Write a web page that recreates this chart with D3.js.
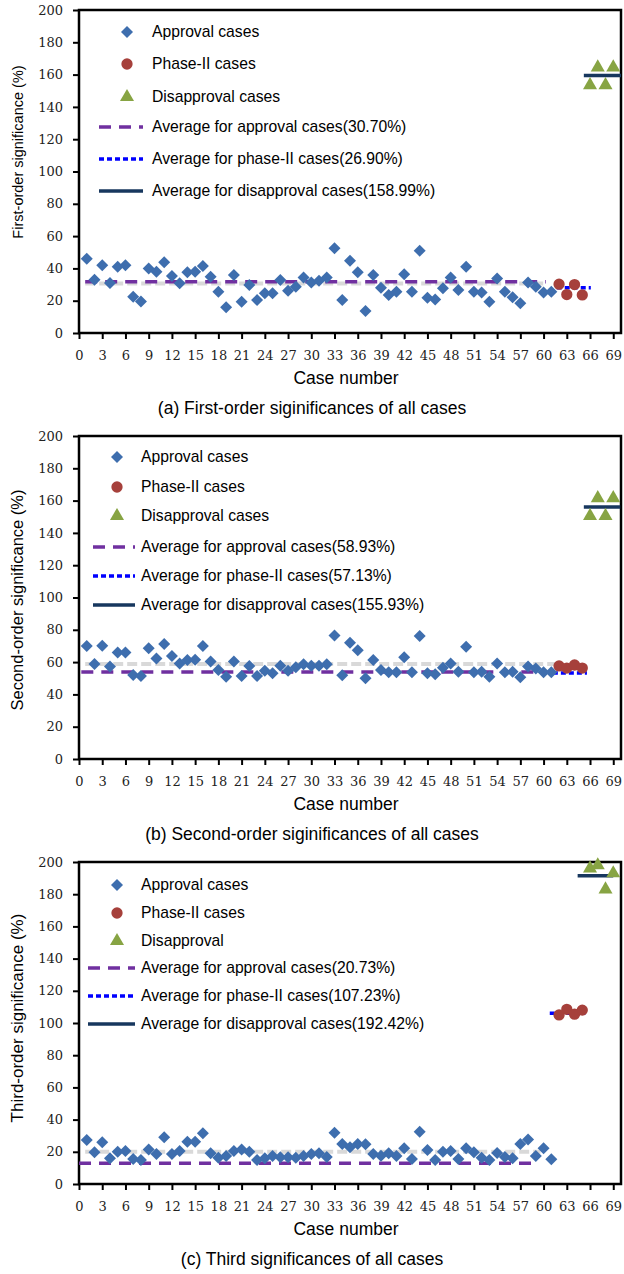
<!DOCTYPE html>
<html>
<head>
<meta charset="utf-8">
<script src="https://cdn.jsdelivr.net/npm/d3@7"></script>
<style>
  body { margin: 0; background: #fff; }
  svg { display: block; }
</style>
</head>
<body>
<div id="chart"></div>
<script>
/*
 * data
 */
const caseTicks = d3.range(0, 70, 3)
const sigTicks = d3.range(0, 201, 20)

const approvalCases = d3.range(1, 62)
const phaseCases = [62, 63, 64, 65]
const disapprovalCases = [66, 67, 68, 69]

const firstApproval = [46, 33, 42, 31, 41, 42, 22.5, 19.5, 40, 38, 43.8, 35.3, 30.8, 37.6, 38,
  41.5, 34.9, 25.6, 16, 35.9, 19.4, 29.7, 20.4, 24.6, 24.6, 32.8, 26.2, 28.7, 34.3, 31.2,
  32.4, 34.3, 52.4, 20.4, 44.8, 37.6, 13.6, 35.9, 28, 23.5, 25.6, 36.3, 25.6, 51, 21.9,
  20.8, 27.7, 34.3, 26.6, 41, 25.6, 25, 19.4, 33.8, 25.6, 22.1, 18.4, 31.2, 28.7, 25, 25.6]
const firstPhase = [30.2, 23.8, 30, 23.6]
const firstDisapproval = [153.5, 164.5, 153.5, 164.5]

const secondApproval = [70, 58.8, 70.2, 57.2, 66, 66, 52, 51.4, 68.5, 62.3, 71.2, 63.8, 59.2, 61.3, 61.5,
  70, 60.3, 55.1, 51, 60.3, 51.4, 57.6, 51.4, 54.7, 53.1, 57.8, 54.7, 56.8, 58.6, 57.8,
  57.8, 58.6, 76.4, 51.8, 72, 67.3, 50, 61.3, 55.1, 53.7, 53.7, 63, 53.7, 76.2, 53.1,
  52.4, 56.5, 59.2, 54, 69.5, 53.7, 54, 51, 59.2, 53.7, 54, 50.6, 57.2, 56.1, 53.7, 53.7]
const secondPhase = [57.6, 56.3, 58.2, 56.3]
const secondDisapproval = [150.5, 161.5, 150.5, 161.5]

const thirdApproval = [27.3, 19.7, 25.9, 16, 20.1, 20.5, 15.5, 14.9, 21.5, 18.6, 29, 18.6, 20.5, 26.3, 26.3,
  31.5, 19.1, 16.3, 17.4, 20.5, 21.5, 20.1, 14.9, 16, 17.4, 16.6, 16.6, 16.3, 17.4, 18.6,
  19.1, 16.8, 31.8, 24.8, 22.9, 24.8, 24.7, 18.6, 17.6, 19.1, 17.4, 22.2, 15.5, 32.5, 21.1,
  14.9, 20.1, 20.5, 15.5, 22.2, 19.7, 16.3, 14.9, 19.3, 16.8, 16, 24.8, 27.7, 17.4, 22.2, 15.3]
const thirdPhase = [105, 108.5, 105.5, 108]
const thirdDisapproval = [196, 198, 183, 193]

// levels of the average lines as drawn: [gray, purple, blue dotted, navy]
const firstAverages = [30.7, 31.8, 28, 159.5]
const secondAverages = [58.9, 53.9, 53.3, 156]
const thirdAverages = [20.1, 12.9, 106, 191.4]

// x extents of those lines
const firstExtents = [[0.8, 60.3], [0.8, 60.3], [61.7, 66.1], [65.2, 70]]
const secondExtents = [[0.8, 61.5], [0.3, 60], [61.2, 65.6], [65.2, 69.9]]
const thirdExtents = [[0.8, 59.6], [0, 59], [60.8, 65.4], [64.4, 69]]

const firstLegend = ['Approval cases', 'Phase-II cases', 'Disapproval cases',
  'Average for approval cases(30.70%)', 'Average for phase-II  cases(26.90%)',
  'Average for disapproval cases(158.99%)']
const secondLegend = ['Approval cases', 'Phase-II cases', 'Disapproval cases',
  'Average for approval cases(58.93%)', 'Average for phase-II  cases(57.13%)',
  'Average for disapproval cases(155.93%)']
const thirdLegend = ['Approval cases', 'Phase-II cases', 'Disapproval',
  'Average for approval cases(20.73%)', 'Average for phase-II  cases(107.23%)',
  'Average for disapproval cases(192.42%)']

/*
 * layout
 */
const W = 624
const H = 1274
const left = 79
const right = 621
const sans = 'Liberation Sans, Arial, sans-serif'
const serif = 'DejaVu Serif, serif'

const colors = {
  approval: '#3e6eae',
  phase: '#a6403b',
  disapproval: '#87a443',
  gray: '#d9d9d9',
  purple: '#7030a0',
  blue: '#0000ff',
  navy: '#17375e'
}

const svg = d3.select('#chart')
  .append('svg')
  .attr('width', W)
  .attr('height', H)

const x = d3.scaleLinear().domain([0, 70]).range([left, right])

const panels = [
  {
    top: 10, bottom: 333, yTitle: 'First-order significance (%)', yTitleY: 152, yTitleSize: 14.5,
    caption: '(a) First-order siginificances of all cases',
    approval: firstApproval, phase: firstPhase, disapproval: firstDisapproval,
    averages: firstAverages, extents: firstExtents, legend: firstLegend,
    legendX: 127, textX: 152, lineX: [99, 143], rows: [32, 64, 97, 127, 159, 191]
  },
  {
    top: 436, bottom: 759, yTitle: 'Second-order significance (%)', yTitleY: 600, yTitleSize: 16.5,
    caption: '(b) Second-order siginificances of all cases',
    approval: secondApproval, phase: secondPhase, disapproval: secondDisapproval,
    averages: secondAverages, extents: secondExtents, legend: secondLegend,
    legendX: 117, textX: 141, lineX: [93, 135], rows: [457, 487, 516, 547, 576, 605]
  },
  {
    top: 862, bottom: 1184, yTitle: 'Third-order significance (%)', yTitleY: 1018, yTitleSize: 17,
    caption: '(c) Third significances of all cases',
    approval: thirdApproval, phase: thirdPhase, disapproval: thirdDisapproval,
    averages: thirdAverages, extents: thirdExtents, legend: thirdLegend,
    legendX: 117, textX: 141, lineX: [88, 135], rows: [885, 913, 941, 968, 996, 1024]
  }
]

const diamond = d3.symbol().type(d3.symbolSquare).size(72)
const circle = d3.symbol().type(d3.symbolCircle).size(100)
const triangle = d3.symbol().type(d3.symbolTriangle).size(85)

const lineStyles = [
  { color: colors.gray, width: 4, dash: '10,4' },
  { color: colors.purple, width: 3.5, dash: '12,8' },
  { color: colors.blue, width: 3.5, dash: '5,3' },
  { color: colors.navy, width: 3.5, dash: null }
]

panels.forEach(drawPanel)

function drawPanel(p) {
  const y = d3.scaleLinear().domain([0, 200]).range([p.bottom, p.top])
  const g = svg.append('g')

  // y axis
  const yAxis = g.append('g')
    .attr('transform', `translate(${left},0)`)
    .call(d3.axisLeft(y).tickValues(sigTicks).tickSize(6).tickPadding(10))
  yAxis.select('.domain').remove()
  yAxis.selectAll('line').attr('stroke', '#000').attr('stroke-width', 2)
  yAxis.selectAll('text')
    .attr('font-family', serif)
    .attr('font-size', 13)
    .attr('fill', '#222')

  // x axis
  const xAxis = g.append('g')
    .attr('transform', `translate(0,${p.bottom})`)
    .call(d3.axisBottom(x).tickValues(caseTicks).tickSize(6).tickPadding(12))
  xAxis.select('.domain').remove()
  xAxis.selectAll('line').attr('stroke', '#000').attr('stroke-width', 2)
  xAxis.selectAll('text')
    .attr('font-family', serif)
    .attr('font-size', 13)
    .attr('fill', '#222')

  // frame
  g.append('rect')
    .attr('x', left)
    .attr('y', p.top)
    .attr('width', right - left)
    .attr('height', p.bottom - p.top)
    .attr('fill', 'none')
    .attr('stroke', '#000')
    .attr('stroke-width', 2.5)

  // titles
  g.append('text')
    .attr('transform', `translate(23,${p.yTitleY}) rotate(-90)`)
    .attr('text-anchor', 'middle')
    .attr('font-family', sans)
    .attr('font-size', p.yTitleSize)
    .text(p.yTitle)

  g.append('text')
    .attr('x', 346)
    .attr('y', p.bottom + 51)
    .attr('text-anchor', 'middle')
    .attr('font-family', sans)
    .attr('font-size', 17.5)
    .text('Case number')

  g.append('text')
    .attr('x', 312)
    .attr('y', p.bottom + 81)
    .attr('text-anchor', 'middle')
    .attr('font-family', sans)
    .attr('font-size', 17.5)
    .text(p.caption)

  // average lines
  p.averages.forEach((level, i) => {
    const s = lineStyles[i]
    g.append('line')
      .attr('x1', x(p.extents[i][0]))
      .attr('x2', x(p.extents[i][1]))
      .attr('y1', y(level))
      .attr('y2', y(level))
      .attr('stroke', s.color)
      .attr('stroke-width', s.width)
      .attr('stroke-dasharray', s.dash)
  })

  // points
  g.append('g').selectAll('path')
    .data(p.approval)
    .enter()
    .append('path')
    .attr('d', diamond)
    .attr('transform', (d, i) => `translate(${x(approvalCases[i])},${y(d)}) rotate(45)`)
    .attr('fill', colors.approval)

  g.append('g').selectAll('path')
    .data(p.phase)
    .enter()
    .append('path')
    .attr('d', circle)
    .attr('transform', (d, i) => `translate(${x(phaseCases[i])},${y(d)})`)
    .attr('fill', colors.phase)

  g.append('g').selectAll('path')
    .data(p.disapproval)
    .enter()
    .append('path')
    .attr('d', triangle)
    .attr('transform', (d, i) => `translate(${x(disapprovalCases[i])},${y(d)})`)
    .attr('fill', colors.disapproval)

  // legend
  const leg = g.append('g')
  leg.append('path').attr('d', diamond)
    .attr('transform', `translate(${p.legendX},${p.rows[0]}) rotate(45)`)
    .attr('fill', colors.approval)
  leg.append('path').attr('d', circle)
    .attr('transform', `translate(${p.legendX},${p.rows[1]})`)
    .attr('fill', colors.phase)
  leg.append('path').attr('d', triangle)
    .attr('transform', `translate(${p.legendX},${p.rows[2]})`)
    .attr('fill', colors.disapproval)
  lineStyles.slice(1).forEach((s, i) => {
    leg.append('line')
      .attr('x1', p.lineX[0])
      .attr('x2', p.lineX[1])
      .attr('y1', p.rows[i + 3])
      .attr('y2', p.rows[i + 3])
      .attr('stroke', s.color)
      .attr('stroke-width', s.width)
      .attr('stroke-dasharray', s.dash)
  })
  p.legend.forEach((label, i) => {
    leg.append('text')
      .attr('x', p.textX)
      .attr('y', p.rows[i] + 5)
      .attr('font-family', sans)
      .attr('font-size', 15.7)
      .text(label)
  })
}
</script>
</body>
</html>
